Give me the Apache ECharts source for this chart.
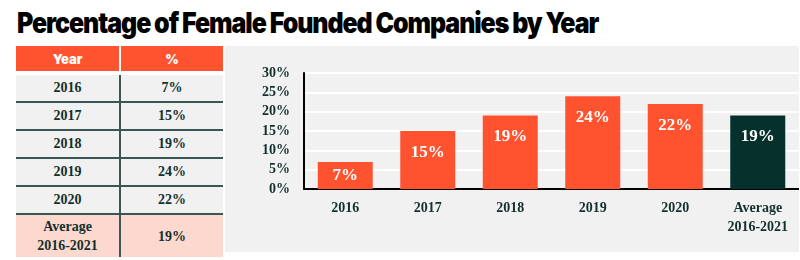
<!DOCTYPE html>
<html>
<head>
<meta charset="utf-8">
<script src="https://cdn.jsdelivr.net/npm/echarts@6/dist/echarts.min.js"></script>
<style>
    body { margin: 0; width: 800px; height: 260px; background: #fff; position: relative; overflow: hidden; }
    #title {
        position: absolute; left: 17px; top: 6px; white-space: nowrap;
        font-family: Inter, sans-serif; font-weight: 900; font-size: 28px;
        letter-spacing: -1.2px; color: #000;
        transform-origin: left top;
    }
    #tbl {
        position: absolute; left: 16px; top: 46px; width: 207px;
        border-collapse: collapse; font-family: "Liberation Serif", serif;
        font-size: 14px; font-weight: bold; color: #12302c;
    }
    #tbl td, #tbl th { text-align: center; padding: 0; }
    #tbl th {
        background: #ff532f; color: #fff; height: 25px;
        font-family: Inter, sans-serif; font-weight: 900; font-size: 13px;
        border-bottom: 4px solid #fff;
    }
    #tbl th:first-child { border-right: 2px solid #fff; }
    #tbl td { background: #f1f1f1; height: 26px; border-bottom: 2px solid #3a5552; }
    #tbl td:first-child { border-right: 2px solid #3a5552; width: 103px; }
    #tbl tr.avg td { background: #fdd8cf; height: 42px; border-bottom: none; line-height: 19px; }
    #chart { position: absolute; left: 225px; top: 46px; width: 574px; height: 206px; background: #f1f1f1; }
</style>
</head>
<body>
<div id="title">Percentage of Female Founded Companies by Year</div>
<table id="tbl"></table>
<div id="chart"></div>
<script>
// 数据
var years = ['2016', '2017', '2018', '2019', '2020', 'Average\n2016-2021'];
var percents = [7, 15, 19, 24, 22, 19];
var yTicks = [0, 5, 10, 15, 20, 25, 30];

var orange = '#ff532f';
var dark = '#06302c';

// 标题宽度适配
var t = document.getElementById('title');
t.style.transform = 'scaleX(' + (581 / t.offsetWidth) + ')';

// 左侧表格
var tbl = document.getElementById('tbl');
var html = '<tr><th>Year</th><th>%</th></tr>';
for (var i = 0; i < years.length; i++) {
    var isAvg = i === years.length - 1;
    html += '<tr' + (isAvg ? ' class="avg"' : '') + '><td>' + years[i].replace('\n', '<br>') +
        '</td><td>' + percents[i] + '%</td></tr>';
}
tbl.innerHTML = html;

// 柱状图
var myChart = echarts.init(document.getElementById('chart'));
var barData = percents.map(function (v, i) {
    return {
        value: v,
        itemStyle: { color: i === percents.length - 1 ? dark : orange },
        label: v < 10 ? { position: 'inside' } : {}
    };
});
myChart.setOption({
    animation: false,
    grid: { left: 79, right: 0, top: 27, bottom: 63 },
    xAxis: {
        type: 'category',
        data: years,
        axisLine: { lineStyle: { color: '#000', width: 2 } },
        axisTick: { show: false },
        axisLabel: {
            color: '#12302c', fontFamily: 'Liberation Serif', fontWeight: 'bold',
            fontSize: 14, lineHeight: 19, margin: 10, interval: 0
        }
    },
    yAxis: {
        type: 'value',
        min: yTicks[0],
        max: yTicks[yTicks.length - 1],
        interval: 5,
        axisLine: { show: true, lineStyle: { color: '#000', width: 2 } },
        axisTick: { show: false },
        splitLine: { lineStyle: { color: '#fff', width: 2 } },
        axisLabel: {
            formatter: '{value}%', color: '#12302c', fontFamily: 'Liberation Serif',
            fontWeight: 'bold', fontSize: 14, margin: 14
        }
    },
    series: [{
        type: 'bar',
        data: barData,
        barWidth: 55,
        label: {
            show: true, position: 'insideTop', distance: 13, formatter: '{c}%',
            color: '#fff', fontFamily: 'Liberation Serif', fontWeight: 'bold', fontSize: 17
        }
    }]
});
</script>
</body>
</html>
